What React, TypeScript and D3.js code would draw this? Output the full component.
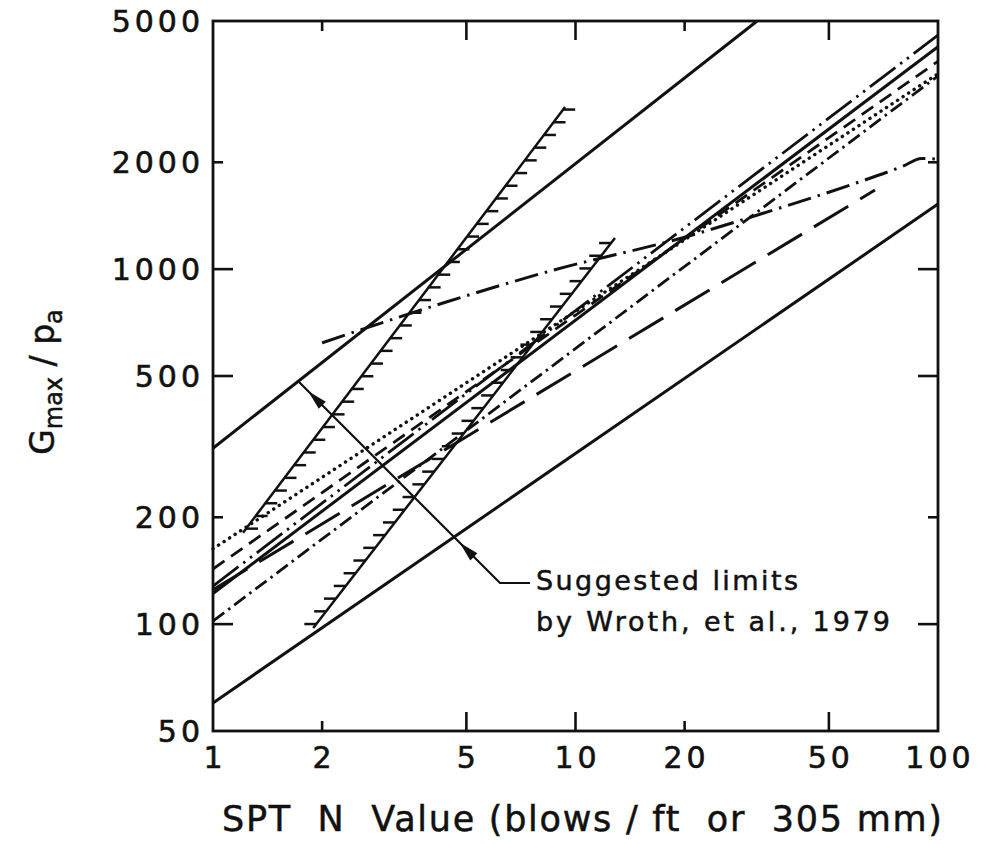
import React from 'react';
import * as d3 from 'd3';

// Axis ticks
const xTickValues = [1, 2, 5, 10, 20, 50, 100];
const yTickValues = [50, 100, 200, 500, 1000, 2000, 5000];
const xMinorTicks = [2, 20];
const yMinorTicks = [200, 2000];

// Correlations of Gmax/pa with SPT N ([N, Gmax/pa])
const upperLimit: [number, number][] = [[1, 313], [31.7, 5000]];
const lowerLimit: [number, number][] = [[1, 60], [100, 1525]];
const hatchedLeft: [number, number][] = [[1.21, 181], [9.36, 2862]];
const hatchedRight: [number, number][] = [[1.89, 97.5], [12.85, 1224]];
const dottedSeries: [number, number][] = [[1, 163], [100, 3550]];
const dashedSeries: [number, number][] = [[1, 143], [100, 3850]];
const solidSeries: [number, number][] = [[1, 122], [100, 4230]];
const dashDotSeries: [number, number][] = [[1, 102], [100, 3500]];
const dashDotDotSeries: [number, number][] = [[1, 128], [100, 4560]];
const longDashSeries: [number, number][] = [[1, 125], [67, 1670]];
const flatSeries: [number, number][] = [
  [2, 620], [4.4, 808], [8.7, 994], [20, 1230], [33.7, 1448], [57, 1723], [80, 1950], [90, 2050], [100, 2040],
];

const W = 988;
const H = 844;
const left = 213;
const right = 938;
const top = 21;
const bottom = 731;

const x = d3.scaleLog().domain([1, 100]).range([left, right]);
const y = d3.scaleLog().domain([50, 5000]).range([bottom, top]);

const lineGen = d3.line<[number, number]>().x((d) => x(d[0])).y((d) => y(d[1]));
const curveGen = d3
  .line<[number, number]>()
  .x((d) => x(d[0]))
  .y((d) => y(d[1]))
  .curve(d3.curveMonotoneX);

const FONT = '"DejaVu Sans", Verdana, sans-serif';
const INK = '#111';

function hatches(data: [number, number][], side: 1 | -1, spacing = 12.7, len = 12) {
  const x0 = x(data[0][0]);
  const y0 = y(data[0][1]);
  const x1 = x(data[1][0]);
  const y1 = y(data[1][1]);
  const n = Math.floor(Math.abs(y1 - y0) / spacing);
  const segs: { x1: number; y1: number; x2: number; y2: number }[] = [];
  for (let i = 0; i <= n; i++) {
    const t = (i * spacing + 4) / Math.abs(y1 - y0);
    if (t > 1) break;
    const px = x0 + (x1 - x0) * t;
    const py = y0 + (y1 - y0) * t;
    segs.push({ x1: px, y1: py, x2: px + side * len, y2: py });
  }
  return segs;
}

// intersection of a ray through p with direction d and a straight data segment
function meet(p: [number, number], d: [number, number], data: [number, number][]): [number, number] {
  const ax = x(data[0][0]);
  const ay = y(data[0][1]);
  const bx = x(data[1][0]);
  const by = y(data[1][1]);
  const ex = bx - ax;
  const ey = by - ay;
  const den = d[0] * ey - d[1] * ex;
  const t = ((ax - p[0]) * ey - (ay - p[1]) * ex) / den;
  return [p[0] + d[0] * t, p[1] + d[1] * t];
}

function arrowHead(tip: [number, number], dir: [number, number], length = 20, half = 5) {
  const m = Math.hypot(dir[0], dir[1]);
  const ux = dir[0] / m;
  const uy = dir[1] / m;
  const bx = tip[0] - ux * length;
  const by = tip[1] - uy * length;
  const nx = -uy;
  const ny = ux;
  return `M${tip[0]},${tip[1]}L${bx + nx * half},${by + ny * half}L${bx - nx * half},${by - ny * half}Z`;
}

export default function App() {
  const knee: [number, number] = [500, 583];
  const dir: [number, number] = [-1, -1];
  const upperHit = meet(knee, dir, upperLimit);
  const lowerHit = meet(knee, dir, lowerLimit);
  const u = Math.SQRT1_2;
  const tipUpper: [number, number] = [upperHit[0] + 14 * u, upperHit[1] + 14 * u];
  const tipLower: [number, number] = [lowerHit[0] + 8 * u, lowerHit[1] + 8 * u];

  const styled = [
    { data: upperLimit, dash: undefined, w: 3 },
    { data: lowerLimit, dash: undefined, w: 3 },
    { data: solidSeries, dash: undefined, w: 3 },
    { data: dottedSeries, dash: '0.1 6.5', w: 3.4, cap: 'round' },
    { data: dashedSeries, dash: '14 8', w: 2.8 },
    { data: dashDotSeries, dash: '14 5 2.5 5', w: 2.8 },
    { data: dashDotDotSeries, dash: '32 6 2.5 6 2.5 6', w: 2.8 },
    { data: longDashSeries, dash: '40 14', w: 3 },
    { data: hatchedLeft, dash: undefined, w: 2.5 },
    { data: hatchedRight, dash: undefined, w: 2.5 },
  ];

  return (
    <svg
      width={W}
      height={H}
      viewBox={`0 0 ${W} ${H}`}
      style={{ position: 'absolute', left: 0, top: 0, background: '#fff' }}
    >
      <rect x={0} y={0} width={W} height={H} fill="#fff" />

      {/* data lines */}
      <g fill="none" stroke={INK}>
        {styled.map((s, i) => (
          <path
            key={i}
            d={lineGen(s.data) || ''}
            strokeWidth={s.w}
            strokeDasharray={s.dash}
            strokeLinecap={(s as any).cap || 'butt'}
          />
        ))}
        <path d={curveGen(flatSeries) || ''} strokeWidth={3} strokeDasharray="24 7 2.5 7" />
      </g>

      {/* hatching toward the inside of the band */}
      <g stroke={INK} strokeWidth={2.5}>
        {hatches(hatchedLeft, 1).map((h, i) => (
          <line key={`a${i}`} {...h} />
        ))}
        {hatches(hatchedRight, -1).map((h, i) => (
          <line key={`b${i}`} {...h} />
        ))}
      </g>

      {/* frame */}
      <rect x={left} y={top} width={right - left} height={bottom - top} fill="none" stroke={INK} strokeWidth={2.8} />

      {/* ticks */}
      <g stroke={INK} strokeWidth={2.6}>
        {xTickValues.slice(1, -1).map((v) => {
          const len = xMinorTicks.includes(v) ? 10 : 19;
          return (
            <g key={`xt${v}`}>
              <line x1={x(v)} x2={x(v)} y1={bottom} y2={bottom - len} />
              <line x1={x(v)} x2={x(v)} y1={top} y2={top + len} />
            </g>
          );
        })}
        {yTickValues.slice(1, -1).map((v) => {
          const len = yMinorTicks.includes(v) ? 10 : 20;
          return (
            <g key={`yt${v}`}>
              <line x1={left} x2={left + len} y1={y(v)} y2={y(v)} />
              <line x1={right} x2={right - len} y1={y(v)} y2={y(v)} />
            </g>
          );
        })}
      </g>

      {/* tick labels */}
      <g fontFamily={FONT} fontSize={30} fill={INK} stroke={INK} strokeWidth={0.6}>
        {yTickValues.map((v) => (
          <text key={`yl${v}`} x={204} y={y(v) + 11} textAnchor="end" letterSpacing={4}>
            {v}
          </text>
        ))}
        {xTickValues.map((v) => (
          <text key={`xl${v}`} x={x(v) + 2} y={768} textAnchor="middle" letterSpacing={4}>
            {v}
          </text>
        ))}
      </g>

      {/* axis titles */}
      <text
        x={222}
        y={831}
        fontFamily={FONT}
        fontSize={35}
        fill={INK}
        stroke={INK}
        strokeWidth={0.5}
        textLength={720}
        lengthAdjust="spacing"
        style={{ whiteSpace: 'pre' }}
      >
        SPT  N  Value (blows / ft  or  305 mm)
      </text>
      <text
        transform="translate(54,382) rotate(-90)"
        fontFamily={FONT}
        fill={INK}
        stroke={INK}
        strokeWidth={0.5}
        textAnchor="middle"
      >
        <tspan fontSize={33}>G</tspan>
        <tspan fontSize={24} dy={8}>max</tspan>
        <tspan fontSize={33} dy={-8}> / p</tspan>
        <tspan fontSize={24} dy={8}>a</tspan>
      </text>

      {/* annotation */}
      <path
        d={`M${knee[0] + 30},${knee[1]}L${knee[0]},${knee[1]}L${upperHit[0]},${upperHit[1]}`}
        fill="none"
        stroke={INK}
        strokeWidth={2.2}
      />
      <path d={arrowHead(tipUpper, dir)} fill={INK} />
      <path d={arrowHead(tipLower, dir)} fill={INK} />
      <g fontFamily={FONT} fontSize={27} fill={INK} stroke={INK} strokeWidth={0.5}>
        <text x={536} y={590} textLength={262} lengthAdjust="spacing">
          Suggested limits
        </text>
        <text x={536} y={631} textLength={354} lengthAdjust="spacing">
          by Wroth, et al., 1979
        </text>
      </g>
    </svg>
  );
}
